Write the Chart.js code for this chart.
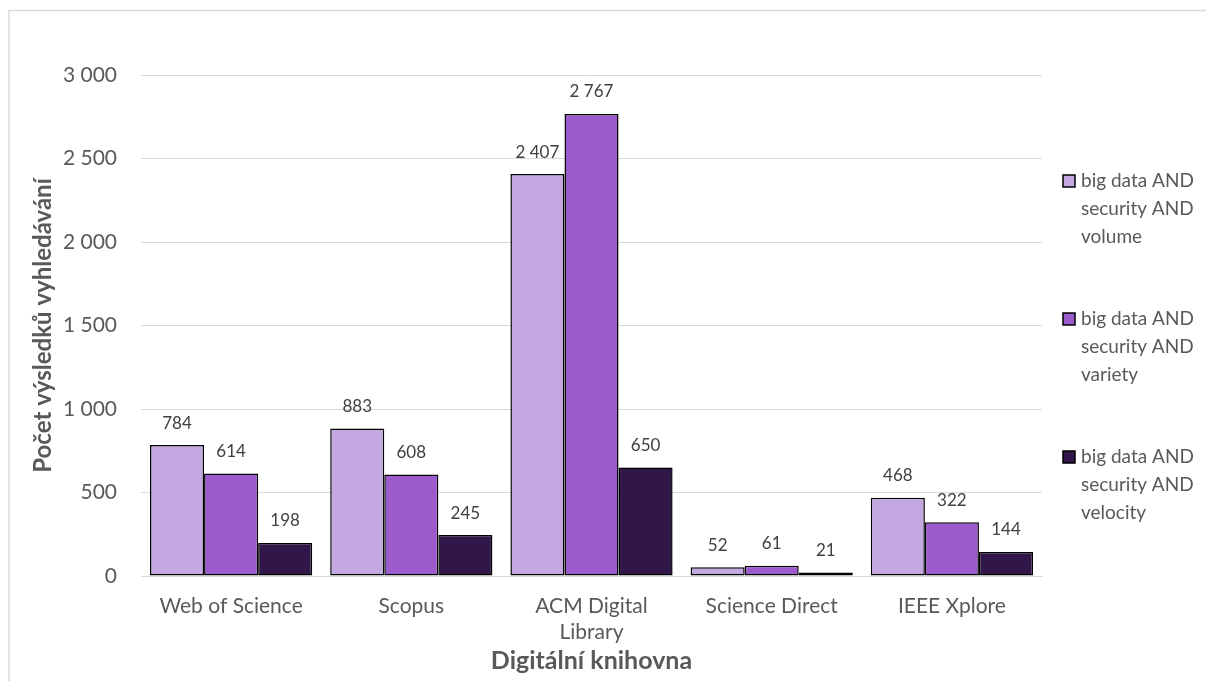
<!DOCTYPE html>
<html>
<head>
<meta charset="utf-8">
<script src="https://cdn.jsdelivr.net/npm/chart.js@4.4.0/dist/chart.umd.min.js"></script>
<style>
  html, body { margin: 0; padding: 0; background: #fff; }
  #wrap { position: relative; width: 1206px; height: 681px; }
</style>
</head>
<body>
<div id="wrap"><canvas id="chart" width="1206" height="681"></canvas></div>
<script>
// ====== Données ======
const categories = ["Web of Science", "Scopus", ["ACM Digital", "Library"], "Science Direct", "IEEE Xplore"];
const seriesNames = [
  ["big data AND", "security AND", "volume"],
  ["big data AND", "security AND", "variety"],
  ["big data AND", "security AND", "velocity"]
];
const volumeValues   = [784, 883, 2407, 52, 468];
const varietyValues  = [614, 608, 2767, 61, 322];
const velocityValues = [198, 245, 650, 21, 144];
const yTicks = [0, 500, 1000, 1500, 2000, 2500, 3000];

const colors = ["#c3a8e2", "#9c5bcd", "#31164a"];
const FONT = "Lato, 'Open Sans', sans-serif";

function fmtNum(v) {
  return String(v).replace(/\B(?=(\d{3})+(?!\d))/g, " ");
}

// ====== Étiquettes de valeurs ======
const valueLabels = {
  id: "valueLabels",
  afterDatasetsDraw(chart) {
    const ctx = chart.ctx;
    ctx.save();
    ctx.font = "17px " + FONT;
    ctx.fillStyle = "#404040";
    ctx.textAlign = "center";
    ctx.textBaseline = "middle";
    chart.data.datasets.forEach((ds, i) => {
      chart.getDatasetMeta(i).data.forEach((bar, j) => {
        ctx.fillText(fmtNum(ds.data[j]), bar.x, bar.y - 22);
      });
    });
    ctx.restore();
  }
};

// ====== Légende (multi-lignes) + cadre ======
const sideLegend = {
  id: "sideLegend",
  beforeDraw(chart) {
    const ctx = chart.ctx;
    ctx.save();
    ctx.strokeStyle = "#d9d9d9";
    ctx.lineWidth = 1.5;
    ctx.beginPath();
    ctx.moveTo(9, 700);
    ctx.lineTo(9, 10.5);
    ctx.lineTo(1220, 10.5);
    ctx.stroke();
    ctx.restore();
  },
  afterDraw(chart) {
    const ctx = chart.ctx;
    const x = 1063, tops = [181, 319, 457], lh = 28;
    ctx.save();
    ctx.font = "19px " + FONT;
    ctx.textBaseline = "middle";
    seriesNames.forEach((lines, i) => {
      ctx.fillStyle = colors[i];
      ctx.fillRect(x, tops[i] - 6, 12, 12);
      ctx.strokeStyle = "#000";
      ctx.lineWidth = 1.5;
      ctx.strokeRect(x, tops[i] - 6, 12, 12);
      ctx.fillStyle = "#595959";
      lines.forEach((t, k) => ctx.fillText(t, x + 18, tops[i] + k * lh));
    });
    ctx.restore();
  }
};

const chart = new Chart(document.getElementById("chart"), {
  type: "bar",
  data: {
    labels: categories,
    datasets: [volumeValues, varietyValues, velocityValues].map((data, i) => ({
      label: seriesNames[i].join(" "),
      data,
      backgroundColor: colors[i],
      borderColor: "#000",
      borderWidth: 1.5,
      borderSkipped: false,
      categoryPercentage: 0.9,
      barPercentage: 1
    }))
  },
  options: {
    responsive: false,
    animation: false,
    layout: { padding: { left: 10, top: 75, right: 1206 - 1042, bottom: 0 } },
    plugins: { legend: { display: false }, tooltip: { enabled: false } },
    scales: {
      x: {
        grid: { display: false, drawTicks: false },
        border: { color: "#d9d9d9", width: 1 },
        ticks: { color: "#595959", font: { family: FONT, size: 21 }, padding: 18, maxRotation: 0, autoSkip: false },
        title: { display: true, text: "Digitální knihovna", color: "#595959", font: { family: FONT, size: 25, weight: "bold" }, padding: { top: 0, bottom: 5 } },
        afterFit: s => { s.height = 681 - 576; }
      },
      y: {
        min: 0, max: 3000,
        afterBuildTicks: s => { s.ticks = yTicks.map(v => ({ value: v })); },
        grid: { color: "#d9d9d9", drawTicks: false },
        border: { display: false },
        ticks: { color: "#595959", font: { family: FONT, size: 21 }, padding: 24, callback: v => fmtNum(v) },
        title: { display: true, text: "Počet výsledků vyhledávání", color: "#595959", font: { family: FONT, size: 24, weight: "bold" }, padding: { top: 19, bottom: 0 } },
        afterFit: s => { s.width = 141 - 10; }
      }
    }
  },
  plugins: [valueLabels, sideLegend]
});
</script>
</body>
</html>
